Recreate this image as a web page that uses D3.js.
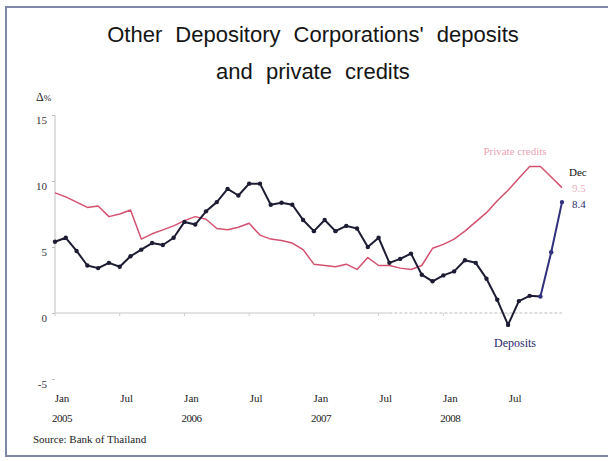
<!DOCTYPE html>
<html><head><meta charset="utf-8">
<script src="https://cdn.jsdelivr.net/npm/d3@7"></script>
<style>body{margin:0;background:#fff}svg{display:block}</style>
</head><body>
<svg id="c" width="608" height="461"></svg>
<script>
// Monthly data Jan 2005 .. Dec 2008 (% y-o-y)
const months = d3.range(48);
const deposits = [5.4,5.7,4.7,3.6,3.4,3.8,3.5,4.3,4.8,5.3,5.15,5.7,
  6.9,6.7,7.7,8.4,9.4,8.9,9.8,9.8,8.2,8.35,8.2,7.05,
  6.2,7.05,6.2,6.6,6.4,5.0,5.7,3.8,4.1,4.5,2.9,2.4,
  2.85,3.15,4.0,3.8,2.6,1.0,-0.9,0.9,1.3,1.25,4.6,8.4];
const privateCredits = [9.1,8.8,8.4,8.0,8.1,7.3,7.5,7.8,5.6,6.0,6.3,6.6,
  7.0,7.3,7.1,6.4,6.3,6.5,6.8,5.9,5.6,5.5,5.3,4.8,
  3.7,3.6,3.5,3.7,3.3,4.2,3.6,3.6,3.4,3.3,3.6,4.9,
  5.2,5.6,6.2,6.9,7.6,8.5,9.3,10.2,11.1,11.1,10.3,9.5];
const yTicks = [-5,0,5,10,15];
const xTickIdx = [0,6,12,18,24,30,36,42];
const xTickMonth = ["Jan","Jul","Jan","Jul","Jan","Jul","Jan","Jul"];
const xTickYear = ["2005","","2006","","2007","","2008",""];
const titleLines = ["Other Depository Corporations' deposits","and private credits"];

const svg = d3.select("#c");
const serif = "'Liberation Serif','DejaVu Serif',serif";
const x = d3.scaleLinear().domain([0,47]).range([55,562]);
const y = d3.scaleLinear().domain([-5,15]).range([379,115]);

// frame
svg.append("rect").attr("x",6).attr("y",7).attr("width",620).attr("height",449)
  .attr("fill","#fff").attr("stroke","#8088aa").attr("stroke-width",2);

// title
svg.selectAll("text.title").data(titleLines).join("text")
  .attr("x",313).attr("y",(d,i)=>42+i*37).attr("text-anchor","middle")
  .attr("font-family","'Liberation Sans',Arial,sans-serif").attr("font-size",22)
  .attr("word-spacing",7).attr("fill","#151515").text(d=>d);

// y axis
const yAxis = d3.axisLeft(y).tickValues(yTicks).tickSize(3).tickFormat(d=>String(d));
const ga = svg.append("g").attr("transform","translate(55,0)").call(yAxis);
ga.select(".domain").remove();
ga.selectAll("line").attr("stroke","#bbb");
ga.selectAll("text").attr("font-family",serif).attr("font-size",11).attr("fill","#333")
  .attr("dy","0.75em").attr("x",-8);
svg.append("line").attr("x1",x(0)).attr("x2",x(0)).attr("y1",y(15)).attr("y2",y(0))
  .attr("stroke","#c8c8c8").attr("stroke-width",1.2);
svg.append("text").attr("x",36).attr("y",101).attr("font-family",serif).attr("font-size",12)
  .attr("fill","#222").text("Δ").append("tspan").attr("font-size",9).text("%");

// zero line
svg.append("line").attr("x1",x(0)).attr("x2",x(31)).attr("y1",y(0)).attr("y2",y(0))
  .attr("stroke","#c8c8c8").attr("stroke-width",1.2);
svg.append("line").attr("x1",x(31)).attr("x2",x(47)).attr("y1",y(0)).attr("y2",y(0))
  .attr("stroke","#bbb").attr("stroke-width",1).attr("stroke-dasharray","3,2");
svg.selectAll("line.xt").data(xTickIdx).join("line")
  .attr("x1",d=>x(d)).attr("x2",d=>x(d)).attr("y1",y(0)).attr("y2",y(0)+3)
  .attr("stroke","#ccc");

// x labels
svg.selectAll("text.xm").data(xTickIdx).join("text")
  .attr("x",d=>x(d)+7).attr("y",402).attr("text-anchor","middle")
  .attr("font-family",serif).attr("font-size",11).attr("fill","#222")
  .text((d,i)=>xTickMonth[i]);
svg.selectAll("text.xy").data(xTickIdx).join("text")
  .attr("x",d=>x(d)+7).attr("y",422).attr("text-anchor","middle")
  .attr("font-family",serif).attr("font-size",11).attr("fill","#222")
  .attr("letter-spacing",-0.5).text((d,i)=>xTickYear[i]);

// private credits line
const line = d3.line().x((d,i)=>x(i)).y(d=>y(d));
svg.append("path").datum(privateCredits).attr("d",line).attr("fill","none")
  .attr("stroke","#d4506f").attr("stroke-width",1.5).attr("stroke-linejoin","round");

// deposits line
const lineI = d3.line().x(d=>x(d)).y(d=>y(deposits[d]));
svg.append("path").datum(months.slice(0,46)).attr("d",lineI).attr("fill","none")
  .attr("stroke","#1c1c34").attr("stroke-width",2).attr("stroke-linejoin","round");
svg.append("path").datum(months.slice(45)).attr("d",lineI).attr("fill","none")
  .attr("stroke","#30307e").attr("stroke-width",2).attr("stroke-linejoin","round");
svg.selectAll("circle.dp").data(months).join("circle")
  .attr("cx",d=>x(d)).attr("cy",d=>y(deposits[d])).attr("r",2.2)
  .attr("fill",d=>d>=45?"#30307e":"#1c1c34");

// annotations
svg.append("text").attr("x",515).attr("y",155).attr("text-anchor","middle")
  .attr("font-family",serif).attr("font-size",11).attr("fill","#e9a3b5").text("Private credits");
svg.append("text").attr("x",515).attr("y",347).attr("text-anchor","middle")
  .attr("font-family",serif).attr("font-size",12).attr("fill","#2a2a6e").text("Deposits");
svg.append("text").attr("x",569).attr("y",176)
  .attr("font-family",serif).attr("font-size",11).attr("fill","#111").text("Dec");
svg.append("text").attr("x",572).attr("y",192)
  .attr("font-family",serif).attr("font-size",11).attr("fill","#eab0c0").text(privateCredits[47].toFixed(1));
svg.append("text").attr("x",572).attr("y",208)
  .attr("font-family",serif).attr("font-size",11).attr("fill","#2a2a6e").text(deposits[47].toFixed(1));

// source
svg.append("text").attr("x",33).attr("y",443).attr("font-family",serif).attr("font-size",11)
  .attr("fill","#222").text("Source: Bank of Thailand");
</script>
</body></html>
